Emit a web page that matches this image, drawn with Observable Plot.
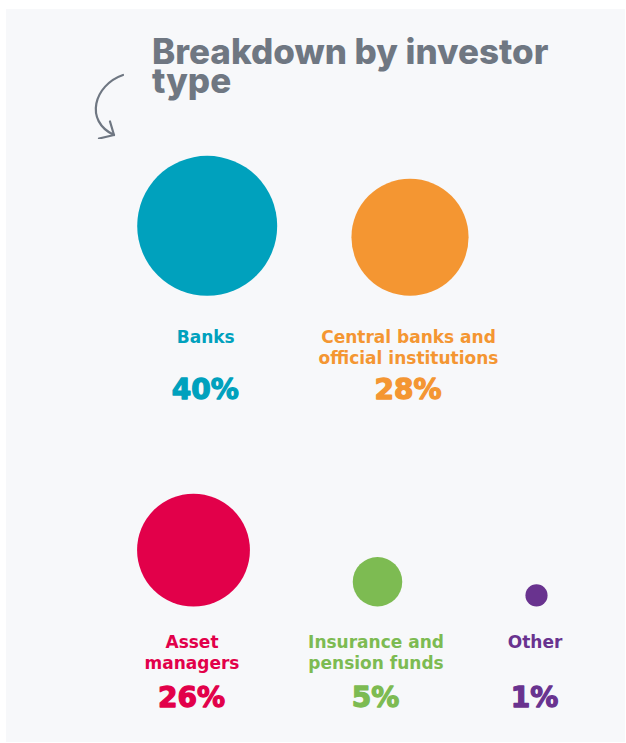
<!DOCTYPE html>
<html>
<head>
<meta charset="utf-8">
<script src="https://cdn.jsdelivr.net/npm/d3@7"></script>
<script src="https://cdn.jsdelivr.net/npm/@observablehq/plot@0.6"></script>
<style>
  html, body { margin: 0; padding: 0; background: #ffffff; }
  #panel { position: absolute; left: 6px; top: 9px; width: 619px; height: 733px; background: #f7f8fa; overflow: hidden; }
  #header { position: absolute; left: 0; top: 0; width: 619px; height: 130px; }
  #title { position: absolute; left: 146px; top: 27.5px; margin: 0; font-family: Inter, "DejaVu Sans", sans-serif; font-weight: 800; font-size: 35px; line-height: 29px; color: #6f7782; letter-spacing: 0; }
  #arrow { position: absolute; left: 0; top: 0; }
  #chart { position: absolute; left: 0; top: 130px; }
</style>
</head>
<body>
<div id="panel">
  <div id="header">
    <svg id="arrow" width="200" height="130" viewBox="0 0 200 130">
      <path d="M117,66 C88,76 78,112 108,126" fill="none" stroke="#6f7782" stroke-width="2.2" stroke-linecap="round"/>
      <path d="M93,129.5 L108,126 L104,112.5" fill="none" stroke="#6f7782" stroke-width="2.2" stroke-linecap="round" stroke-linejoin="round"/>
    </svg>
    <h2 id="title">Breakdown by investor<br>type</h2>
  </div>
  <div id="chart"></div>
</div>
<script>
// ---- data ----
const categories = ["Banks", "Central banks and official institutions", "Asset managers", "Insurance and pension funds", "Other"];
const labels = ["Banks", "Central banks and\nofficial institutions", "Asset\nmanagers", "Insurance and\npension funds", "Other"];
const shares = [40, 28, 26, 5, 1];
const rows = ["top", "top", "bottom", "bottom", "bottom"];
const colors = ["#00a1bd", "#f49632", "#e2004a", "#7dbb52", "#69338f"];

// ---- layout (scale ranges) ----
const xSlots = [200.7, 403.5, 187, 371, 530];
const rowBaselines = [156.3, 467];

const data = categories.map((name, i) => ({ name, label: labels[i], share: shares[i], pct: shares[i] + "%", row: rows[i] }));
const topRow = data.filter(d => d.row === "top");
const bottomRow = data.filter(d => d.row === "bottom");

// circle symbol anchored at its bottom point
const bottomCircle = {
  draw(context, size) {
    const r = Math.sqrt(size / Math.PI);
    context.moveTo(r, -r);
    context.arc(0, -r, r, 0, 2 * Math.PI);
    context.closePath();
  }
};

const labelFont = "'DejaVu Sans', sans-serif";
const nameOpts = { x: "name", y: "row", text: "label", fill: "name", lineAnchor: "top", fontSize: 17, fontWeight: 700, lineHeight: 21 / 17, fontFamily: labelFont, dx: -1.5 };
const pctOpts = { x: "name", y: "row", text: "pct", fill: "name", stroke: "name", strokeWidth: 1.3, lineAnchor: "top", fontSize: 28, fontWeight: 700, fontFamily: labelFont, dx: -2 };

const chart = Plot.plot({
  width: 619,
  height: 603,
  margin: 0,
  style: { background: "transparent", overflow: "visible" },
  x: { type: "ordinal", domain: categories, range: xSlots, axis: null },
  y: { type: "ordinal", domain: ["top", "bottom"], range: rowBaselines, axis: null },
  r: { type: "sqrt", domain: [0, 40], range: [0, 70] },
  color: { domain: categories, range: colors },
  marks: [
    Plot.dot(data, { x: "name", y: "row", r: "share", fill: "name", symbol: bottomCircle }),
    Plot.text(topRow, { ...nameOpts, dy: 32 }),
    Plot.text(bottomRow, { ...nameOpts, dy: 27 }),
    Plot.text(topRow, { ...pctOpts, dy: 83 }),
    Plot.text(bottomRow, { ...pctOpts, dy: 81 })
  ]
});
document.getElementById("chart").appendChild(chart);
</script>
</body>
</html>
